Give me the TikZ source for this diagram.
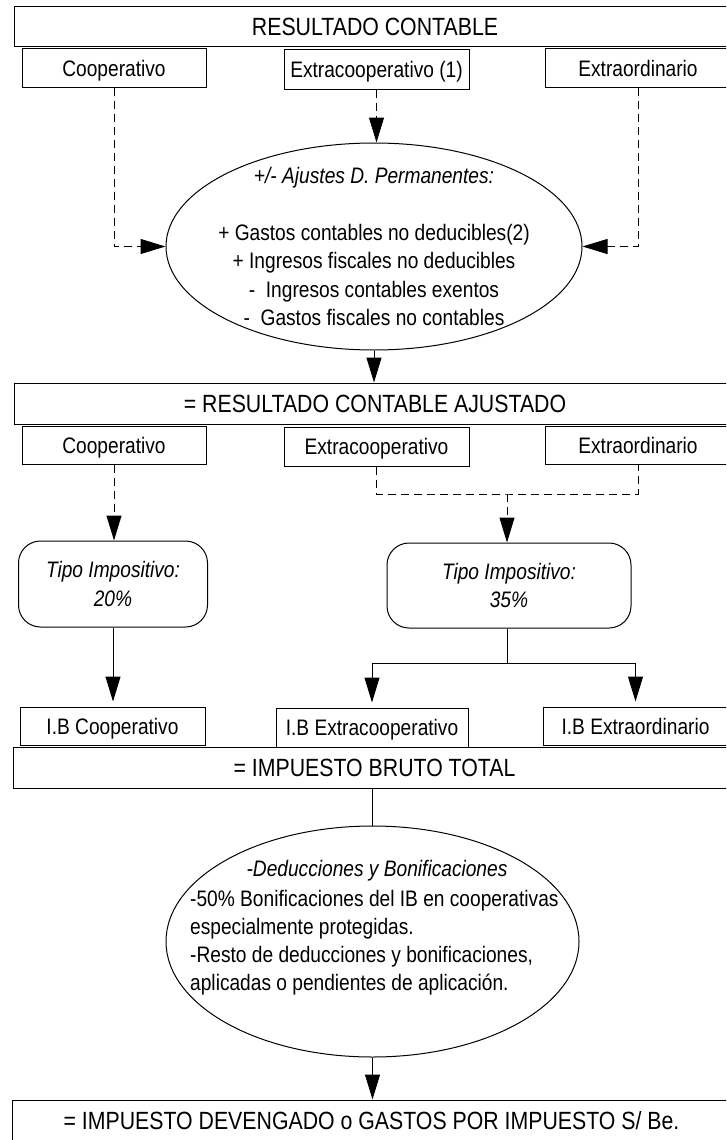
\documentclass[tikz,border=0pt]{standalone}
\usepackage{fontspec}
\setmainfont{Liberation Sans}[FakeStretch=0.855]
\usetikzlibrary{arrows.meta,shapes.geometric}
\newcommand\fsmall{\fontsize{22.4}{28.3}\selectfont}
\newcommand\fbig{\fontsize{24.9}{30}\selectfont}
\tikzset{
  bx/.style={draw, line width=1pt, inner sep=0pt, font=\fsmall, text height=16pt, text depth=0pt},
  bigbx/.style={draw, line width=1pt, inner sep=0pt, font=\fbig, text height=18pt, text depth=0pt},
  rbx/.style={draw, line width=1pt, rounded corners=22pt, inner sep=0pt, font=\fsmall\itshape, align=center},
  ell/.style={draw, ellipse, line width=1pt, inner sep=0pt},
  txt/.style={anchor=base, inner sep=0pt, font=\fsmall},
  conn/.style={line width=1pt},
  arr/.style={conn, -{Triangle[length=25pt,width=15pt]}},
  dsh/.style={dash pattern=on 8pt off 5pt},
}
\begin{document}
\begin{tikzpicture}[x=1pt,y=-1pt]
\fill[white] (0,0) rectangle (726,1140);
\useasboundingbox (0,0) rectangle (726,1140);
\clip (0,0) rectangle (726,1140);

% row 1
\node[bigbx, minimum width=722pt, minimum height=40pt] (top) at (375,27) {RESULTADO CONTABLE};
\node[bx, minimum width=184pt, minimum height=38pt] (c1) at (114,68) {Cooperativo};
\node[bx, minimum width=185pt, minimum height=39pt] (e1) at (376.5,69.5) {Extracooperativo (1)};
\node[bx, minimum width=186pt, minimum height=38pt] (x1) at (638,68) {Extraordinario};

% ellipse 1
\node[ell, minimum width=416pt, minimum height=207pt] (ell1) at (374,246.5) {};
\node[txt, font=\fsmall\itshape] (a0) at (374,183) {+/- Ajustes D. Permanentes:};
\node[txt] (a1) at (374,240) {+ Gastos contables no deducibles(2)};
\node[txt] (a2) at (374,268.5) {+ Ingresos fiscales no deducibles};
\node[txt] (a3) at (374,297) {-\ \ Ingresos contables exentos};
\node[txt] (a4) at (374,325) {-\ \ Gastos fiscales no contables};

\draw[arr, dsh] (c1.south) |- (ell1.west);
\draw[arr, dsh] (e1.south) -- (e1.south |- ell1.north);
\draw[arr, dsh] (x1.south) |- (ell1.east);

% row 2
\node[bigbx, minimum width=722pt, minimum height=41pt] (ajust) at (375,403.5) {= RESULTADO CONTABLE AJUSTADO};
\draw[arr] (ell1.south) -- (ell1.south |- ajust.north);
\node[bx, minimum width=184pt, minimum height=38pt] (c2) at (114,445) {Cooperativo};
\node[bx, minimum width=185pt, minimum height=39pt] (e2) at (376.5,446.5) {Extracooperativo};
\node[bx, minimum width=186pt, minimum height=38pt] (x2) at (638,445) {Extraordinario};

% tax rates
\node[rbx, minimum width=189pt, minimum height=86pt] (t1) at (113,584) {Tipo Impositivo:\\20\%};
\node[rbx, minimum width=244pt, minimum height=85pt] (t2) at (509,585.5) {Tipo Impositivo:\\35\%};

\draw[arr, dsh] (c2.south) -- (c2.south |- t1.north);
\coordinate (jn) at (507,494);
\draw[conn, dsh] (e2.south) |- (jn) -| (x2.south);
\draw[arr, dsh] (jn) -- (jn |- t2.north);

% I.B boxes
\node[bx, minimum width=185pt, minimum height=38pt] (ib1) at (112.5,726) {I.B Cooperativo};
\node[bx, minimum width=192pt, minimum height=39pt] (ib2) at (372,727.5) {I.B Extracooperativo};
\node[bx, minimum width=185pt, minimum height=38pt] (ib3) at (635.5,726) {I.B Extraordinario};

\draw[arr, shorten >=5pt] (t1.south) -- (t1.south |- ib1.north);
\coordinate (br) at (507,663);
\draw[conn] (t2.south -| br) -- (br);
\draw[arr, shorten >=5pt] (br) -| (ib2.north);
\draw[arr, shorten >=5pt] (br) -| (ib3.north);

% bruto
\node[bigbx, minimum width=723pt, minimum height=41pt] (bruto) at (374.5,767.5) {= IMPUESTO BRUTO TOTAL};

% ellipse 2
\node[ell, minimum width=413pt, minimum height=231pt] (ell2) at (372.5,941.5) {};
\draw[conn] (bruto.south -| ell2.north) -- (ell2.north);
\node[txt, font=\fsmall\itshape] (d0) at (377,876) {-Deducciones y Bonificaciones};
\node[txt, anchor=base west] (d1) at (190,906) {-50\% Bonificaciones del IB en cooperativas};
\node[txt, anchor=base west] (d2) at (190,934) {especialmente protegidas.};
\node[txt, anchor=base west] (d3) at (190,962) {-Resto de deducciones y bonificaciones,};
\node[txt, anchor=base west] (d4) at (190,990) {aplicadas o pendientes de aplicación.};

% bottom
\node[bigbx, minimum width=719pt, minimum height=41pt] (dev) at (371.5,1120.5) {= IMPUESTO DEVENGADO o GASTOS POR IMPUESTO S/ Be.};
\draw[arr] (ell2.south) -- (ell2.south |- dev.north);
\end{tikzpicture}
\end{document}
